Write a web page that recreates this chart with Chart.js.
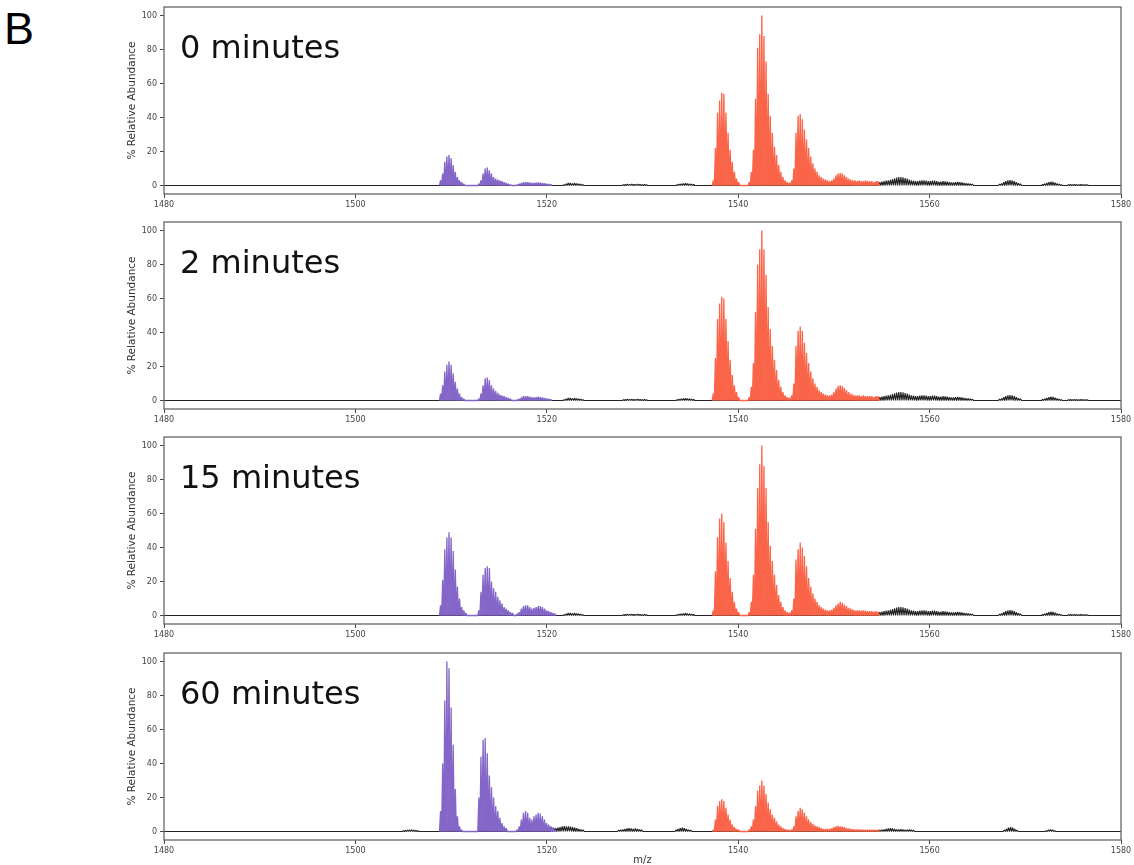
<!DOCTYPE html>
<html>
<head>
<meta charset="utf-8">
<script src="https://cdn.jsdelivr.net/npm/chart.js@4.4.1/dist/chart.umd.min.js"></script>
<style>
  body { margin: 0; background: #fff; width: 1134px; height: 865px; position: relative; overflow: hidden; }
  #letter { position: absolute; left: 4px; top: 6px; font: 45px "Liberation Sans", Arial, sans-serif; line-height: 45px; color: #000; }
  canvas { position: absolute; left: 0; }
</style>
</head>
<body>
<div id="letter">B</div>
<canvas id="c0" width="1134" height="221"></canvas>
<canvas id="c1" width="1134" height="221"></canvas>
<canvas id="c2" width="1134" height="221"></canvas>
<canvas id="c3" width="1134" height="221"></canvas>
<script>
// tick labels and panel names
const mzTicks = [1480, 1500, 1520, 1540, 1560, 1580];
const abundanceTicks = [0, 20, 40, 60, 80, 100];
const panelLabels = ['0 minutes', '2 minutes', '15 minutes', '60 minutes'];

// isotope spacing (m/z) between neighbouring spikes
const STEP = 0.22;

// each envelope: [first m/z, peak heights (% relative abundance)]
const purple0 = [
  [1508.9, [3, 7, 14, 17, 18, 16, 12, 8, 5, 3, 2, 1]],
  [1512.9, [1, 3, 7, 10, 10.5, 9, 7, 5, 4, 3.5, 3, 2.5, 2, 1.5, 1, 0.5]],
  [1516.9, [0.5, 1, 1.5, 2, 2, 2, 1.8, 1.5, 1.5, 1.7, 1.8, 1.7, 1.5, 1.3, 1, 0.8, 0.6]]
];
const red0 = [
  [1537.4, [3, 22, 43, 50, 54.5, 54, 43, 31, 21, 14, 8, 4, 2]],
  [1541.15, [2, 8, 21, 51, 81, 89, 100, 88, 73, 54, 41, 31, 23, 18, 12, 8, 5, 3, 2, 1.5]],
  [1545.6, [3, 10, 31, 41, 42, 39, 33, 27, 22, 17, 13, 10, 8, 6, 5, 4, 3.5, 3, 2.5, 3, 4, 6, 7, 7.5, 7, 6, 5, 4, 3.5, 3, 3, 2.5, 3, 2.5, 2.5, 3, 2.5, 2.5, 2.5, 2, 2.5, 2.5]]
];

const purple2 = [
  [1508.9, [4, 9, 17, 21, 23, 21, 16, 11, 7, 4, 2, 1]],
  [1512.9, [1, 4, 9, 13, 13.5, 12, 9, 7, 5.5, 4.5, 3.5, 3, 2.5, 2, 1.5, 1]],
  [1516.9, [0.5, 1, 1.8, 2.5, 2.5, 2.5, 2.2, 2, 1.8, 2, 2.2, 2, 1.8, 1.5, 1.2, 1, 0.6]]
];
const red2 = [
  [1537.4, [4, 25, 48, 57, 61, 60, 48, 35, 24, 15, 9, 5, 2]],
  [1541.15, [2, 8, 22, 52, 80, 89, 100, 89, 74, 55, 42, 32, 24, 18, 12, 8, 5, 3, 2, 1.5]],
  [1545.6, [3, 10, 32, 41, 43.5, 41, 34, 28, 22, 17, 13, 10, 8, 6, 5, 4, 3.5, 3, 3, 3.5, 5, 7, 8.5, 9, 8.5, 7.5, 6, 5, 4, 3.5, 3, 3, 3, 2.5, 3, 2.5, 2.5, 2.5, 2.5, 2, 2.5, 2.5]]
];

const purple15 = [
  [1508.9, [6, 21, 39, 46, 49, 46, 38, 27, 17, 10, 5, 3, 1.5]],
  [1512.9, [3, 14, 24, 28, 29, 28, 20, 16, 14, 11, 9, 7, 5, 4, 3, 2, 1.5]],
  [1516.9, [1, 2, 4, 5.5, 6, 6, 5, 4, 4.5, 5, 5.5, 5.5, 5, 4, 3, 2.5, 2, 1.5, 1]]
];
const red15 = [
  [1537.4, [3, 26, 46, 57, 60, 55, 43, 32, 22, 14, 8, 4, 2]],
  [1541.15, [2, 8, 24, 51, 75, 89, 100, 88, 75, 55, 41, 32, 24, 18, 12, 8, 5, 3, 2, 1.5]],
  [1545.6, [3, 10, 33, 39, 43, 40, 35, 29, 22, 17, 13, 10, 8, 6, 5, 4, 3.5, 3, 3, 3.5, 4.5, 6, 7, 8, 7.5, 6.5, 5.5, 4.5, 4, 3.5, 3, 3, 3, 2.8, 3, 2.8, 2.5, 2.5, 2.5, 2.2, 2.5, 2.2]]
];

const purple60 = [
  [1508.9, [12, 40, 77, 100, 96, 73, 51, 25, 9, 3, 1]],
  [1512.9, [20, 44, 54, 55, 46, 33, 26, 20, 15, 12, 8, 5, 3, 2]],
  [1516.9, [1, 3, 7, 11, 12, 11, 8, 7, 9, 10, 11, 10.5, 9, 7, 5, 4, 3, 2, 1]]
];
const red60 = [
  [1537.4, [1, 7, 15, 18, 19, 18, 14, 10, 7, 4, 2.5, 1.5, 1]],
  [1541.15, [1, 3, 7, 15, 24, 27, 30, 27, 22, 17, 13, 10, 8, 6, 4, 3, 2, 1.5, 1, 1]],
  [1545.6, [1, 3, 9, 12, 14, 13, 11, 9, 7, 5.5, 4.5, 3.5, 3, 2.5, 2, 1.5, 1.5, 1.5, 1.5, 2, 2.5, 3, 3.3, 3, 2.8, 2.5, 2, 1.8, 1.5, 1.3, 1.2, 1.2, 1.1, 1.1, 1, 1, 1, 1, 1, 1, 1, 1]]
];

// unassigned signal (black trace)
const noiseEarly = [
  [1521.8, [0.5, 1, 1.5, 1.5, 1.2, 1.5, 1.2, 1, 0.8, 0.5]],
  [1528.0, [0.4, 0.6, 0.8, 0.7, 0.8, 0.6, 0.7, 0.8, 0.6, 0.5, 0.6, 0.4]],
  [1533.6, [0.5, 0.8, 1, 1.2, 1.3, 1.2, 1, 0.8, 0.6]],
  [1554.8, [2, 2.2, 2.5, 2.8, 3, 3.3, 3.8, 4.2, 4.6, 4.9, 5, 4.8, 4.4, 4, 3.5, 3, 2.8, 2.6, 2.6, 2.8, 3, 3, 2.8, 2.6, 2.6, 2.8, 2.8, 2.5, 2.3, 2.3, 2.5, 2.4, 2.2, 2, 1.8, 1.8, 2, 2.1, 2, 1.8, 1.5, 1.3, 1.1, 1, 0.9]],
  [1567.3, [0.8, 1.2, 2, 2.5, 3, 3.2, 3, 2.6, 2, 1.4, 1]],
  [1571.8, [0.6, 1, 1.5, 2, 2.3, 2.1, 1.7, 1.2, 0.8, 0.5]],
  [1574.5, [0.5, 0.6, 0.5, 0.6, 0.5, 0.5, 0.6, 0.5, 0.5, 0.4]]
];
const noiseLate = [
  [1505.0, [0.4, 0.6, 0.8, 1, 1, 0.8, 0.6, 0.4]],
  [1520.5, [2.5, 2.2, 2, 2.2, 2.5, 3, 3.2, 3, 3, 2.8, 2.5, 2.2, 2, 1.5, 1.2, 1]],
  [1527.5, [0.8, 1, 1.2, 1.5, 1.8, 2, 1.8, 1.5, 1.8, 1.5, 1.2, 1]],
  [1533.5, [1, 1.5, 2, 2.2, 2, 1.5, 1, 0.8]],
  [1554.8, [0.8, 1, 1.2, 1.5, 1.8, 2, 1.8, 1.5, 1.2, 1.2, 1.3, 1.2, 1, 1, 1.1, 1, 0.8]],
  [1567.8, [0.8, 1.5, 2.2, 2.5, 2.2, 1.5, 0.8]],
  [1572.2, [0.5, 1, 1.2, 1, 0.5]]
];

const panels = [
  { label: panelLabels[0], purple: purple0, red: red0, noise: noiseEarly },
  { label: panelLabels[1], purple: purple2, red: red2, noise: noiseEarly },
  { label: panelLabels[2], purple: purple15, red: red15, noise: noiseEarly },
  { label: panelLabels[3], purple: purple60, red: red60, noise: noiseLate }
];

const panelTops = [7, 222, 437, 653];
const PURPLE = '#8466c8';
const RED = '#fa6448';

// turn envelopes into a profile trace: spike up, back down to baseline
function spikes(groups) {
  const pts = [];
  groups.forEach(([start, heights]) => {
    pts.push({ x: start - STEP / 2, y: 0 });
    heights.forEach((h, i) => {
      const mz = start + i * STEP;
      pts.push({ x: mz, y: h });
      pts.push({ x: mz + STEP / 2, y: 0 });
    });
  });
  return pts;
}

const frameAndLabel = {
  id: 'frameAndLabel',
  afterDraw(chart, args, opts) {
    const { ctx, chartArea: a } = chart;
    ctx.save();
    ctx.strokeStyle = '#666';
    ctx.lineWidth = 1.3;
    ctx.strokeRect(a.left, a.top, a.right - a.left, a.bottom - a.top);
    ctx.fillStyle = '#111';
    ctx.font = '32px "DejaVu Sans"';
    ctx.textBaseline = 'alphabetic';
    ctx.fillText(opts.text, a.left + 16, a.top + 51);
    ctx.restore();
  }
};

Chart.defaults.font.family = '"DejaVu Sans", sans-serif';
Chart.defaults.color = '#444';

panels.forEach((p, i) => {
  const canvas = document.getElementById('c' + i);
  canvas.style.top = (panelTops[i] - 8) + 'px';
  const last = i === panels.length - 1;

  new Chart(canvas.getContext('2d'), {
    type: 'line',
    data: {
      datasets: [
        {
          data: spikes(p.red),
          borderColor: RED,
          backgroundColor: RED,
          borderWidth: 1.3,
          borderJoinStyle: 'bevel',
          fill: 'origin',
          order: 1
        },
        {
          data: spikes(p.purple),
          borderColor: PURPLE,
          backgroundColor: PURPLE,
          borderWidth: 1.3,
          borderJoinStyle: 'bevel',
          fill: 'origin',
          order: 1
        },
        {
          data: [{ x: 1480, y: 0 }, ...spikes(p.noise), { x: 1580, y: 0 }],
          borderColor: '#222',
          borderWidth: 1.1,
          borderJoinStyle: 'bevel',
          fill: false,
          order: 3
        }
      ]
    },
    options: {
      responsive: false,
      animation: false,
      parsing: false,
      normalized: true,
      elements: { point: { radius: 0 }, line: { tension: 0 } },
      layout: { padding: { left: 120, right: 13, top: 8, bottom: 0 } },
      plugins: {
        legend: { display: false },
        tooltip: { enabled: false },
        frameAndLabel: { text: p.label }
      },
      scales: {
        x: {
          type: 'linear',
          min: 1480,
          max: 1580,
          afterBuildTicks: axis => { axis.ticks = mzTicks.map(v => ({ value: v })); },
          afterFit: axis => { axis.height = 26; },
          ticks: { font: { size: 8 }, padding: 2, maxRotation: 0, callback: v => String(v) },
          grid: { drawOnChartArea: false, tickLength: 4, color: '#444' },
          border: { display: false },
          title: {
            display: last,
            text: 'm/z',
            font: { size: 10 },
            color: '#333',
            padding: { top: 0, bottom: 0 }
          }
        },
        y: {
          min: -5,
          max: 105,
          afterBuildTicks: axis => { axis.ticks = abundanceTicks.map(v => ({ value: v })); },
          afterFit: axis => { axis.width = 44; },
          ticks: { font: { size: 8 }, padding: 3, callback: v => String(v) },
          grid: { drawOnChartArea: false, tickLength: 4, color: '#444' },
          border: { display: false },
          title: {
            display: true,
            text: '% Relative Abundance',
            font: { size: 10.5 },
            color: '#333',
            padding: { top: 6, bottom: 0 }
          }
        }
      }
    },
    plugins: [frameAndLabel]
  });
});
</script>
</body>
</html>
